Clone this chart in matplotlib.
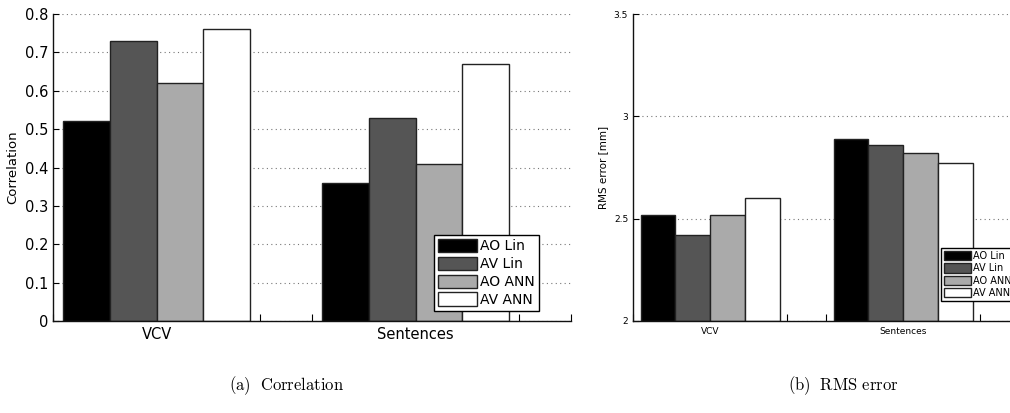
import numpy as np
import matplotlib
matplotlib.use('Agg')
import matplotlib.pyplot as plt
from matplotlib.ticker import MultipleLocator

# data
groups = ['VCV', 'Sentences']
methods = ['AO Lin', 'AV Lin', 'AO ANN', 'AV ANN']
corr = {'AO Lin': [0.52, 0.36], 'AV Lin': [0.73, 0.53],
        'AO ANN': [0.62, 0.41], 'AV ANN': [0.76, 0.67]}
rms = {'AO Lin': [2.52, 2.89], 'AV Lin': [2.42, 2.86],
       'AO ANN': [2.52, 2.82], 'AV ANN': [2.60, 2.77]}
colors = ['#000000', '#555555', '#aaaaaa', '#ffffff']

W, H = 1010, 413
fig = plt.figure(figsize=(W / 100, H / 100), dpi=100)

ax1 = fig.add_axes([53 / W, (H - 321) / H, 518 / W, 307 / H])
ax2 = fig.add_axes([633 / W, (H - 321) / H, 386 / W, 307 / H])

x = np.arange(1, len(groups) + 1)
bw = 0.18


def draw(ax, vals, ylim, ystep, ylabel, fs_tick, fs_lab, fs_leg, leg_anchor, leg_loc):
    for i, m in enumerate(methods):
        ax.bar(x + (i - 1.5) * bw, np.array(vals[m]) - ylim[0], bw, bottom=ylim[0],
               color=colors[i], edgecolor='#222222', linewidth=1.0, label=m)
    ax.set_xlim(0.6, 2.6)
    ax.set_ylim(*ylim)
    ax.yaxis.set_major_locator(MultipleLocator(ystep))
    ax.set_xticks(x)
    ax.set_xticklabels(groups, fontsize=fs_tick)
    ax.xaxis.set_minor_locator(MultipleLocator(0.2))
    ax.tick_params(axis='x', which='major', length=0, pad=4)
    ax.tick_params(axis='x', which='minor', direction='in', length=5, width=0.8)
    ax.tick_params(axis='y', direction='in', length=4, width=0.8, labelsize=fs_tick)
    ax.set_axisbelow(True)
    ax.grid(axis='y', linestyle=(0, (1, 3)), color='#777777', linewidth=0.8)
    ax.set_ylabel(ylabel, fontsize=fs_lab)
    for s in ['top', 'right']:
        ax.spines[s].set_visible(False)
    for s in ['left', 'bottom']:
        ax.spines[s].set_color('#111111')
        ax.spines[s].set_linewidth(1.0)
    leg = ax.legend(loc=leg_loc, bbox_to_anchor=leg_anchor, bbox_transform=fig.transFigure,
                    fontsize=fs_leg, fancybox=False, framealpha=1, edgecolor='black',
                    handlelength=2.8, handleheight=1.1, handletextpad=0.2,
                    labelspacing=0.25, borderpad=0.3, borderaxespad=0)
    leg.get_frame().set_linewidth(1.0)


draw(ax1, corr, (0, 0.8), 0.1, 'Correlation', 10.5, 9.5, 10,
     (539 / W, (H - 311) / H), 'lower right')
draw(ax2, rms, (2, 3.5), 0.5, 'RMS error [mm]', 6.5, 7.5, 7,
     (941 / W, (H - 301) / H), 'lower left')
ax1.yaxis.set_major_formatter(matplotlib.ticker.FuncFormatter(lambda v, p: '0' if v == 0 else f'{v:.1f}'))
ax2.yaxis.set_major_formatter(matplotlib.ticker.FuncFormatter(lambda v, p: f'{v:g}'))

plt.rcParams['mathtext.fontset'] = 'cm'
fig.text(287 / W, 1 - 386 / H, r'$\mathrm{(a)\ \ Correlation}$', ha='center', va='center', fontsize=12)
fig.text(843 / W, 1 - 386 / H, r'$\mathrm{(b)\ \ RMS\ error}$', ha='center', va='center', fontsize=12)

fig.savefig('out.png', dpi=100)
